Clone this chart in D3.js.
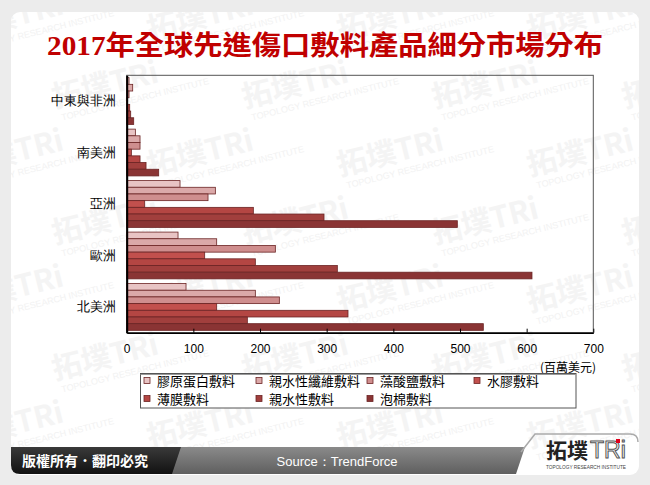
<!DOCTYPE html>
<html>
<head>
<meta charset="utf-8">
<script src="https://cdn.jsdelivr.net/npm/d3@7"></script>
<style>
body { margin: 0; background: #ececec; }
svg { display: block; font-family: "Noto Sans CJK TC", "Noto Sans", sans-serif; }
</style>
</head>
<body>
<svg id="chart" width="650" height="485"></svg>
<script>
// regions top to bottom, as in the picture
var regions = ["中東與非洲", "南美洲", "亞洲", "歐洲", "北美洲"];
var products = ["膠原蛋白敷料", "親水性纖維敷料", "藻酸鹽敷料", "水膠敷料", "薄膜敷料", "親水性敷料", "泡棉敷料"];

// values in 百萬美元, same order as regions
var collagen   = [3.5, 13, 80, 77, 89];
var fiber      = [9, 20, 133, 135, 193];
var alginate   = [3.5, 20, 122, 223, 229];
var hydrogel   = [1, 7, 27, 117, 135];
var film       = [4.5, 20, 190, 193, 332];
var hydrophil  = [6, 29, 296, 316, 181];
var foam       = [10.5, 48, 496, 608, 535];
var seriesValues = [collagen, fiber, alginate, hydrogel, film, hydrophil, foam];

var xTicks = [0, 100, 200, 300, 400, 500, 600, 700];
var colors = ["#e8c4c4", "#dba9a9", "#cf8e8e", "#c2504d", "#b44643", "#a13f3d", "#8a3434"];

var svg = d3.select("#chart");

// white card
svg.append("rect")
    .attr("x", 11).attr("y", 12).attr("width", 628).attr("height", 463)
    .attr("rx", 9).attr("fill", "#fff");

// faint watermark, kept inside the card
svg.append("clipPath").attr("id", "cardClip")
    .append("rect").attr("x", 11).attr("y", 12).attr("width", 628).attr("height", 463).attr("rx", 9);
var wm = svg.append("g").attr("clip-path", "url(#cardClip)");
for (var r = 0; r < 7; r++) {
    for (var c = 0; c < 5; c++) {
        var wx = -40 + c * 190 + (r % 2) * 95;
        var wy = 40 + r * 68;
        var g = wm.append("g").attr("transform", "translate(" + wx + "," + wy + ") rotate(-14)");
        g.append("text").attr("x", 0).attr("y", 0)
            .attr("font-size", 30).attr("font-weight", "bold").attr("fill", "#f4f4f4")
            .text("拓墣TRi");
        g.append("text").attr("x", 4).attr("y", 14)
            .attr("font-size", 9).attr("fill", "#f2f2f2")
            .attr("font-family", "Liberation Sans")
            .text("TOPOLOGY RESEARCH INSTITUTE");
    }
}

// title
svg.append("text")
    .attr("x", 47).attr("y", 55)
    .attr("textLength", 556).attr("lengthAdjust", "spacingAndGlyphs")
    .attr("font-family", "'Liberation Serif', 'Noto Sans CJK TC', serif")
    .attr("font-size", 27).attr("font-weight", "bold")
    .attr("fill", "#c00000")
    .text("2017年全球先進傷口敷料產品細分市場分布");

// plot area
var plotLeft = 126.7, plotRight = 593.3, plotTop = 75.3, plotBottom = 332.7;

var x = d3.scaleLinear().domain([0, 700]).range([plotLeft, plotRight]);
var y0 = d3.scaleBand().domain(regions).range([plotTop, plotBottom]).paddingInner(0).paddingOuter(0);
var y1 = d3.scaleBand().domain(d3.range(products.length)).range([0, y0.bandwidth()]).paddingInner(0).paddingOuter(0.35);

svg.append("rect")
    .attr("x", plotLeft).attr("y", plotTop).attr("width", plotRight - plotLeft).attr("height", plotBottom - plotTop)
    .attr("fill", "none").attr("stroke", "#555").attr("stroke-width", 1);

var series = svg.selectAll(".series")
    .data(seriesValues)
    .enter().append("g")
    .attr("class", "series")
    .attr("fill", function(d, i) { return colors[i]; });

series.selectAll("rect")
    .data(function(d, i) { return d.map(function(v, j) { return { s: i, region: regions[j], value: v }; }); })
    .enter().append("rect")
    .attr("x", x(0))
    .attr("y", function(d) { return y0(d.region) + y1(d.s); })
    .attr("width", function(d) { return x(d.value) - x(0); })
    .attr("height", y1.bandwidth())
    .attr("stroke", "#6b2424")
    .attr("stroke-width", 0.8);

// x axis, ticks pointing into the plot
var xAxis = d3.axisBottom(x).tickValues(xTicks).tickSizeInner(-4).tickSizeOuter(0).tickPadding(12);
var gx = svg.append("g").attr("transform", "translate(0," + plotBottom + ")").call(xAxis);
gx.select(".domain").attr("stroke", "#000").attr("stroke-width", 1.5);
gx.selectAll(".tick line").attr("stroke", "#000");
gx.selectAll(".tick text").attr("font-size", 12).attr("fill", "#000")
    .attr("font-family", "'Liberation Sans', Arial, sans-serif");

// y axis
var yAxis = d3.axisLeft(y0).tickSize(0).tickPadding(11);
var gy = svg.append("g").attr("transform", "translate(" + plotLeft + ",0)").call(yAxis);
gy.select(".domain").attr("stroke", "#000").attr("stroke-width", 2);
gy.selectAll(".tick text").attr("font-size", 13).attr("fill", "#000");

// unit
svg.append("text")
    .attr("x", 596).attr("y", 372).attr("text-anchor", "end")
    .attr("font-size", 12).attr("fill", "#000")
    .text("(百萬美元)");

// legend
var legend = svg.append("g");
legend.append("rect")
    .attr("x", 140.5).attr("y", 373.5).attr("width", 435.5).attr("height", 34.5)
    .attr("fill", "#fff").attr("stroke", "#555").attr("stroke-width", 1);
legend.append("line")
    .attr("x1", 140.5).attr("x2", 576).attr("y1", 374.5).attr("y2", 374.5)
    .attr("stroke", "#999");

var colX = [144, 256, 367, 474];
var rowY = [381, 399];
var items = legend.selectAll(".item")
    .data(products)
    .enter().append("g")
    .attr("class", "item")
    .attr("transform", function(d, i) { return "translate(" + colX[i % 4] + "," + rowY[Math.floor(i / 4)] + ")"; });
items.append("rect")
    .attr("x", 0).attr("y", -3.5).attr("width", 6).attr("height", 6)
    .attr("fill", function(d, i) { return colors[i]; })
    .attr("stroke", "#6b2424").attr("stroke-width", 0.8);
items.append("text")
    .attr("x", 13).attr("y", 0).attr("dy", "0.36em")
    .attr("font-size", 13).attr("fill", "#000")
    .text(function(d) { return d; });

// footer
var defs = svg.append("defs");
var gd = defs.append("linearGradient").attr("id", "darkTab").attr("x1", 0).attr("y1", 0).attr("x2", 0).attr("y2", 1);
gd.append("stop").attr("offset", "0%").attr("stop-color", "#3a3a3a");
gd.append("stop").attr("offset", "100%").attr("stop-color", "#111");
var gg = defs.append("linearGradient").attr("id", "grayBand").attr("x1", 0).attr("y1", 0).attr("x2", 0).attr("y2", 1);
gg.append("stop").attr("offset", "0%").attr("stop-color", "#8a8a8a");
gg.append("stop").attr("offset", "100%").attr("stop-color", "#5f5f5f");

svg.append("path")
    .attr("d", "M172,447 L525,447 L516,474 L166,474 Z")
    .attr("fill", "url(#grayBand)");
svg.append("path")
    .attr("d", "M11,447 L181,447 L172,474 L20,474 Q11,474 11,465 Z")
    .attr("fill", "url(#darkTab)");
svg.append("path")
    .attr("d", "M521,452 L535,434 L630,434 Q638,434 638,442")
    .attr("fill", "none").attr("stroke", "#aaa").attr("stroke-width", 1.5);

svg.append("text")
    .attr("x", 22).attr("y", 466)
    .attr("font-size", 14).attr("font-weight", "bold").attr("fill", "#fff")
    .text("版權所有．翻印必究");
svg.append("text")
    .attr("x", 337).attr("y", 466).attr("text-anchor", "middle")
    .attr("font-size", 13).attr("fill", "#fff")
    .attr("font-family", "'Liberation Sans Narrow', 'Liberation Sans', Arial, sans-serif")
    .text("Source：TrendForce");

// logo
var logo = svg.append("g");
logo.append("text")
    .attr("x", 546).attr("y", 458)
    .attr("font-size", 21).attr("font-weight", "bold").attr("fill", "#222")
    .text("拓墣");
logo.append("text")
    .attr("x", 590).attr("y", 458)
    .attr("font-size", 23).attr("fill", "#fff").attr("stroke", "#555").attr("stroke-width", 1)
    .attr("font-family", "'Liberation Sans', Arial, sans-serif")
    .text("TRi");
logo.append("rect")
    .attr("x", 616).attr("y", 439).attr("width", 4).attr("height", 4).attr("fill", "#e0001b");
logo.append("text")
    .attr("x", 546).attr("y", 469)
    .attr("textLength", 80).attr("lengthAdjust", "spacingAndGlyphs")
    .attr("font-size", 5.5).attr("fill", "#444")
    .attr("font-family", "'Liberation Sans', Arial, sans-serif")
    .text("TOPOLOGY RESEARCH INSTITUTE");
</script>
</body>
</html>
